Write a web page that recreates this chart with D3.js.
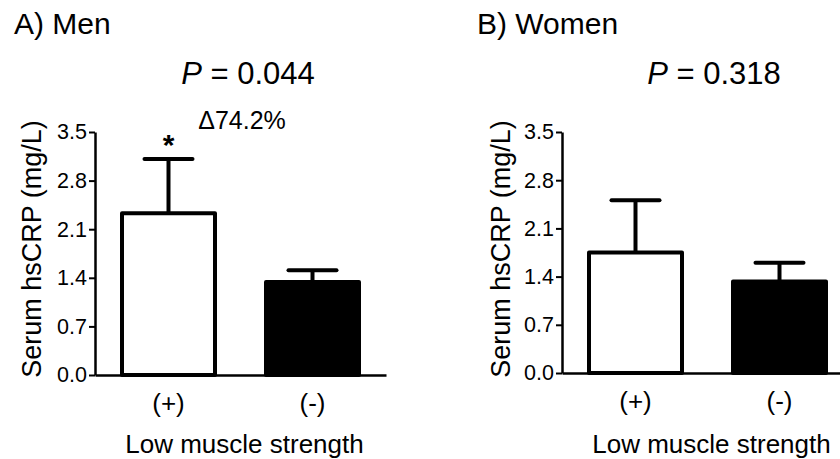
<!DOCTYPE html>
<html><head><meta charset="utf-8">
<script src="https://cdn.jsdelivr.net/npm/d3@7/dist/d3.min.js"></script>
<style>
body{margin:0;background:#fff}
svg{display:block}
text{font-family:"Liberation Sans",Arial,Helvetica,sans-serif;fill:#000}
</style>
</head><body>
<svg id="c" width="840" height="459"></svg>
<script>
// ---- data ----
const categories = ["(+)", "(-)"];
const panelTitles = ["A) Men", "B) Women"];
const pValues = ["0.044", "0.318"];
const menMeans = [2.33, 1.34];
const menErrors = [0.78, 0.17];
const womenMeans = [1.75, 1.33];
const womenErrors = [0.76, 0.27];
const yTicks = [0.0, 0.7, 1.4, 2.1, 2.8, 3.5];
const deltaLabel = "\u039474.2%";
const yAxisTitle = "Serum hsCRP (mg/L)";
const xAxisTitle = "Low muscle strength";
const barFills = ["#fff", "#000"];

// ---- layout ----
const panels = [
  {title: panelTitles[0], p: pValues[0], means: menMeans, errs: menErrors,
   left: 95, y0: 375, y1: 132, titleX: 14, pX: 248, yTitleX: 41, star: true, delta: true},
  {title: panelTitles[1], p: pValues[1], means: womenMeans, errs: womenErrors,
   left: 562, y0: 373, y1: 132, titleX: 477, pX: 714, yTitleX: 510, star: false, delta: false}
];

const svg = d3.select("#c");

panels.forEach(pn => {
  const g = svg.append("g");
  const y = d3.scaleLinear().domain([0, 3.5]).range([pn.y0, pn.y1]);
  const x = d3.scaleBand().domain(categories)
    .range([pn.left, pn.left + 291]).paddingInner(47/144).paddingOuter(25/144);

  const bars = g.selectAll(".bar").data(categories).enter();
  // error bars (upward only)
  bars.append("line")
    .attr("x1", d => x(d) + x.bandwidth()/2)
    .attr("x2", d => x(d) + x.bandwidth()/2)
    .attr("y1", (d,i) => y(pn.means[i]))
    .attr("y2", (d,i) => y(pn.means[i] + pn.errs[i]))
    .attr("stroke", "#000").attr("stroke-width", 4);
  bars.append("line")
    .attr("x1", d => x(d) + x.bandwidth()/2 - 24)
    .attr("x2", d => x(d) + x.bandwidth()/2 + 24)
    .attr("y1", (d,i) => y(pn.means[i] + pn.errs[i]))
    .attr("y2", (d,i) => y(pn.means[i] + pn.errs[i]))
    .attr("stroke", "#000").attr("stroke-width", 4).attr("stroke-linecap", "round");
  bars.append("rect")
    .attr("x", d => x(d) + 2)
    .attr("width", x.bandwidth() - 4)
    .attr("y", (d,i) => y(pn.means[i]))
    .attr("height", (d,i) => pn.y0 - y(pn.means[i]))
    .attr("fill", (d,i) => barFills[i])
    .attr("stroke", "#000").attr("stroke-width", 4).attr("stroke-linejoin", "round");

  // y axis
  const ya = g.append("g").attr("transform", `translate(${pn.left},0)`)
    .call(d3.axisLeft(y).tickValues(yTicks).tickFormat(d3.format(".1f"))
      .tickSizeInner(6).tickSizeOuter(0).tickPadding(2));
  ya.select(".domain").attr("stroke-width", 2.5);
  ya.selectAll(".tick line").attr("stroke-width", 2);
  ya.selectAll("text").style("font-size", "21.5px").attr("font-family", null);

  // x axis
  const xa = g.append("g").attr("transform", `translate(0,${pn.y0})`)
    .call(d3.axisBottom(x).tickSize(0).tickPadding(19).tickSizeOuter(0));
  xa.select(".domain").attr("stroke-width", 2.5);
  xa.selectAll("text").style("font-size", "26px").attr("font-family", null);

  // axis titles
  g.append("text")
    .attr("transform", `translate(${pn.yTitleX},249) rotate(-90)`)
    .attr("text-anchor", "middle").style("font-size", "27px").text(yAxisTitle);
  g.append("text")
    .attr("x", pn.left + 291/2 + 4).attr("y", 453)
    .attr("text-anchor", "middle").style("font-size", "26px").text(xAxisTitle);

  // panel title
  g.append("text").attr("x", pn.titleX).attr("y", 34)
    .style("font-size", "30px").text(pn.title);

  // P value
  const pt = g.append("text").attr("x", pn.pX).attr("y", 84)
    .attr("text-anchor", "middle").style("font-size", "31px");
  pt.append("tspan").style("font-style", "italic").text("P");
  pt.append("tspan").text(" = " + pn.p);

  if (pn.delta) {
    g.append("text").attr("x", 242).attr("y", 129)
      .attr("text-anchor", "middle").style("font-size", "25px").text(deltaLabel);
  }
  if (pn.star) {
    const cx = x(categories[0]) + x.bandwidth()/2;
    g.append("text").attr("x", cx).attr("y", y(pn.means[0] + pn.errs[0]))
      .attr("dy", "-4px")
      .attr("text-anchor", "middle").style("font-size", "30px").style("font-weight", "bold").text("*");
  }
});
</script>
</body></html>
